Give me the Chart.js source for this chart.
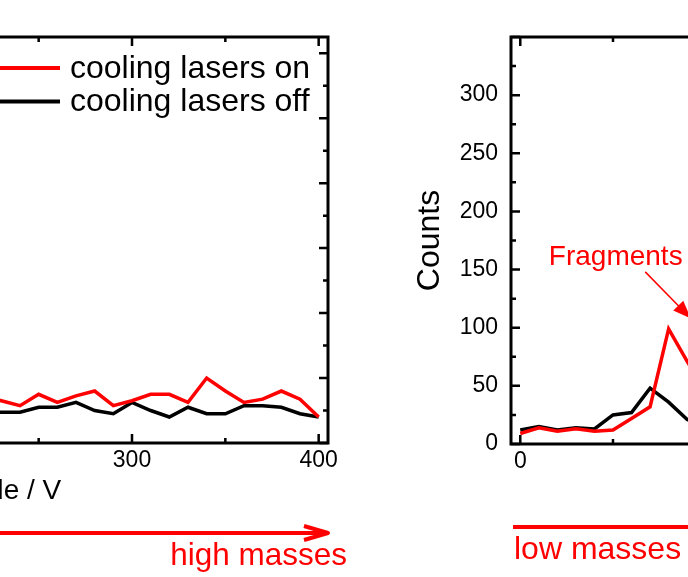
<!DOCTYPE html>
<html>
<head>
<meta charset="utf-8">
<script src="https://cdn.jsdelivr.net/npm/chart.js"></script>
<style>
  html, body { margin: 0; padding: 0; background: #fff; overflow: hidden; }
  body { width: 688px; height: 577px; position: relative; }
  .panel { position: absolute; top: 0; }
  #left { left: -410px; }
  #right { left: 400px; }
</style>
</head>
<body>
<div class="panel" id="left"><canvas id="highMass" width="778" height="577"></canvas></div>
<div class="panel" id="right"><canvas id="lowMass" width="312" height="577"></canvas></div>
<script>
const FONT = "'Liberation Sans', Arial, Helvetica, sans-serif";

// high mass end of the scan
const ampHigh = [220, 230, 240, 250, 260, 270, 280, 290, 300, 310, 320, 330, 340, 350, 360, 370, 380, 390, 400];
const onHigh  = [29, 26, 23, 30, 25, 29, 32, 23, 26, 30, 30, 25, 40, 32, 25, 27, 32, 27, 16];
const offHigh = [19, 19, 19, 22, 22, 25, 20, 18, 25, 20, 16, 22, 18, 18, 23, 23, 22, 18, 16];

// low mass end of the scan
const ampLow = [0, 10, 20, 30, 40, 50, 60, 70, 80, 90, 100];
const onLow  = [9, 14, 11, 13, 11, 12, 22, 32, 99, 71, 45];
const offLow = [12, 15, 12, 14, 13, 25, 27, 48, 36, 21, 15];

const seriesNames = ['cooling lasers on', 'cooling lasers off'];
const seriesColors = ['#ff0000', '#000000'];

Chart.defaults.font.family = FONT;
Chart.defaults.color = '#000';

function pts(xs, ys) {
  return xs.map((x, i) => ({ x: x, y: ys[i] }));
}

function lineSets(xs, on, off) {
  return [on, off].map((ys, i) => ({
    label: seriesNames[i],
    data: pts(xs, ys),
    borderColor: seriesColors[i],
    borderWidth: 3.5,
    pointRadius: 0,
    tension: 0
  }));
}

// box around the plot with inward ticks on all four sides
const frame = {
  id: 'frame',
  afterDatasetsDraw(chart, args, o) {
    const { ctx, chartArea: a, scales: { x, y } } = chart;
    ctx.save();
    ctx.strokeStyle = '#000';
    ctx.lineWidth = 2.5;
    ctx.beginPath();
    for (let v = Math.ceil(x.min / o.xMinor) * o.xMinor; v <= x.max; v += o.xMinor) {
      const p = x.getPixelForValue(v);
      const len = v % o.xMajor === 0 ? 9 : 5;
      ctx.moveTo(p, a.bottom); ctx.lineTo(p, a.bottom - len);
      ctx.moveTo(p, a.top); ctx.lineTo(p, a.top + len);
    }
    for (let v = 0; v <= y.max; v += o.yMinor) {
      const p = y.getPixelForValue(v);
      const len = v % o.yMajor === 0 ? 9 : 5;
      ctx.moveTo(a.left, p); ctx.lineTo(a.left + len, p);
      ctx.moveTo(a.right, p); ctx.lineTo(a.right - len, p);
    }
    ctx.stroke();
    ctx.lineWidth = 3;
    ctx.strokeRect(a.left, a.top, a.right - a.left, a.bottom - a.top);
    ctx.restore();
  }
};

// legend in the upper part of the high mass panel
const insideLegend = {
  id: 'insideLegend',
  afterDraw(chart) {
    const { ctx, chartArea: a } = chart;
    ctx.save();
    ctx.font = '32px ' + FONT;
    ctx.textBaseline = 'middle';
    chart.data.datasets.forEach((ds, i) => {
      const yy = a.top + 31 + i * 33.5;
      ctx.strokeStyle = ds.borderColor;
      ctx.lineWidth = 4;
      ctx.beginPath();
      ctx.moveTo(a.right - 345, yy);
      ctx.lineTo(a.right - 268, yy);
      ctx.stroke();
      ctx.fillStyle = '#000';
      ctx.fillText(ds.label, a.right - 258, yy + 1);
    });
    ctx.restore();
  }
};

// red arrows under the panels
const highArrow = {
  id: 'highArrow',
  afterDraw(chart) {
    const { ctx, chartArea: a } = chart;
    const yy = a.bottom + 90, tip = a.right;
    ctx.save();
    ctx.strokeStyle = '#ff0000';
    ctx.lineWidth = 4;
    ctx.lineJoin = 'round';
    ctx.beginPath();
    ctx.moveTo(a.right - 380, yy);
    ctx.lineTo(tip, yy);
    ctx.moveTo(tip - 24, yy - 7);
    ctx.lineTo(tip, yy);
    ctx.lineTo(tip - 24, yy + 7);
    ctx.stroke();
    ctx.fillStyle = '#ff0000';
    ctx.font = '31.5px ' + FONT;
    ctx.textAlign = 'right';
    ctx.textBaseline = 'alphabetic';
    ctx.fillText('high masses', a.right + 19, a.bottom + 122);
    ctx.restore();
  }
};

const lowArrow = {
  id: 'lowArrow',
  afterDraw(chart) {
    const { ctx, chartArea: a } = chart;
    ctx.save();
    ctx.strokeStyle = '#ff0000';
    ctx.lineWidth = 4;
    ctx.beginPath();
    ctx.moveTo(a.left + 2, a.bottom + 83);
    ctx.lineTo(a.right + 20, a.bottom + 83);
    ctx.stroke();
    ctx.fillStyle = '#ff0000';
    ctx.font = '32px ' + FONT;
    ctx.textBaseline = 'alphabetic';
    ctx.fillText('low masses', a.left + 3, a.bottom + 115);
    ctx.restore();
  }
};

// "Fragments" label with a pointer, placed in data units
const fragments = {
  id: 'fragments',
  afterDatasetsDraw(chart) {
    const { ctx, scales: { x, y } } = chart;
    const x0 = x.getPixelForValue(67.4), y0 = y.getPixelForValue(148);
    const x1 = x.getPixelForValue(92), y1 = y.getPixelForValue(108);
    const ang = Math.atan2(y1 - y0, x1 - x0);
    ctx.save();
    ctx.strokeStyle = '#ff0000';
    ctx.fillStyle = '#ff0000';
    ctx.lineWidth = 1.5;
    ctx.beginPath();
    ctx.moveTo(x0, y0);
    ctx.lineTo(x1 - 14 * Math.cos(ang), y1 - 14 * Math.sin(ang));
    ctx.stroke();
    ctx.beginPath();
    ctx.moveTo(x1, y1);
    ctx.lineTo(x1 - 18 * Math.cos(ang) + 7 * Math.sin(ang), y1 - 18 * Math.sin(ang) - 7 * Math.cos(ang));
    ctx.lineTo(x1 - 18 * Math.cos(ang) - 7 * Math.sin(ang), y1 - 18 * Math.sin(ang) + 7 * Math.cos(ang));
    ctx.closePath();
    ctx.fill();
    ctx.font = '28px ' + FONT;
    ctx.textBaseline = 'alphabetic';
    ctx.fillText('Fragments', x.getPixelForValue(15.4), y.getPixelForValue(154));
    ctx.restore();
  }
};

const hundreds = v => (v % 100 === 0 ? String(v) : null);

const highChart = new Chart(document.getElementById('highMass'), {
  type: 'line',
  data: { datasets: lineSets(ampHigh, onHigh, offHigh) },
  options: {
    responsive: false,
    animation: false,
    layout: { padding: { top: 37, left: 38, right: 40, bottom: 0 } },
    plugins: {
      legend: { display: false },
      tooltip: { enabled: false },
      frame: { xMinor: 50, xMajor: 100, yMinor: 20, yMajor: 40 }
    },
    scales: {
      x: {
        type: 'linear',
        min: 30,
        max: 405,
        afterFit(s) { s.height = 134; },
        grid: { display: false, drawTicks: false },
        border: { display: false },
        ticks: {
          stepSize: 50,
          includeBounds: false,
          autoSkip: false,
          maxRotation: 0,
          padding: 4,
          font: { size: 23 },
          callback: hundreds
        },
        title: {
          display: true,
          text: 'Amplitude / V',
          font: { size: 28 },
          padding: { top: 0, bottom: 69 }
        }
      },
      y: {
        display: false,
        min: 0,
        max: 250
      }
    }
  },
  plugins: [frame, insideLegend, highArrow]
});

const lowChart = new Chart(document.getElementById('lowMass'), {
  type: 'line',
  data: { datasets: lineSets(ampLow, onLow, offLow) },
  options: {
    responsive: false,
    animation: false,
    layout: { padding: { top: 37, left: 0, right: 10, bottom: 0 } },
    plugins: {
      legend: { display: false },
      tooltip: { enabled: false },
      frame: { xMinor: 50, xMajor: 100, yMinor: 25, yMajor: 50 }
    },
    scales: {
      x: {
        type: 'linear',
        min: -5,
        max: 98,
        afterFit(s) { s.height = 133; },
        grid: { display: false, drawTicks: false },
        border: { display: false },
        ticks: {
          stepSize: 50,
          includeBounds: false,
          autoSkip: false,
          maxRotation: 0,
          padding: 4,
          font: { size: 23 },
          callback: hundreds
        }
      },
      y: {
        min: 0,
        max: 350,
        afterFit(s) { s.width = 111; },
        grid: { display: false, drawTicks: false },
        border: { display: false },
        ticks: {
          stepSize: 50,
          padding: 13,
          font: { size: 23 },
          callback: v => (v > 300 ? null : v)
        },
        title: {
          display: true,
          text: 'Counts',
          font: { size: 32 },
          padding: { top: 11, bottom: 0 }
        }
      }
    }
  },
  plugins: [frame, lowArrow, fragments]
});
</script>
</body>
</html>
